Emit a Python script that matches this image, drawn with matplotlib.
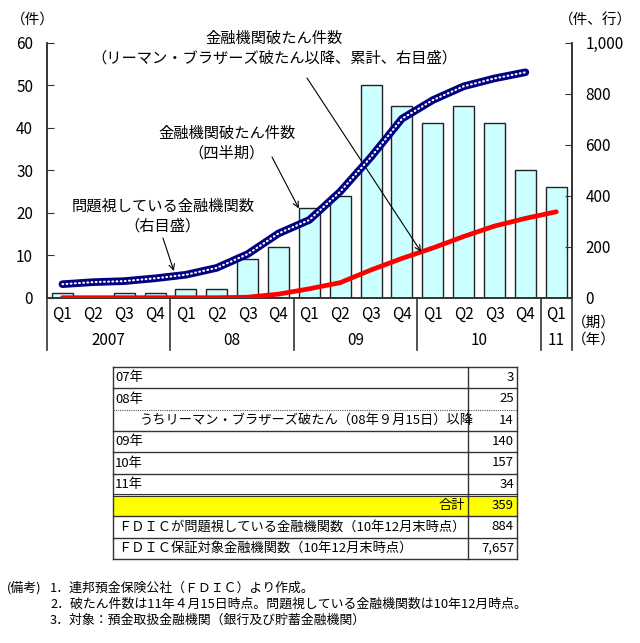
import matplotlib
matplotlib.use("Agg")
import matplotlib.pyplot as plt
from matplotlib.patches import Rectangle
import numpy as np

plt.rcParams['font.family'] = ['Noto Sans CJK JP', 'DejaVu Sans']

# --- data ---
quarters = ['Q1', 'Q2', 'Q3', 'Q4'] * 4 + ['Q1']
years = ['2007', '08', '09', '10', '11']
year_len = [4, 4, 4, 4, 1]
failures = [1, 0, 1, 1, 2, 2, 9, 12, 21, 24, 50, 45, 41, 45, 41, 30, 26]
cum_since_lehman = [0, 0, 0, 0, 0, 0, 2, 14, 35, 59, 109, 154, 195, 240, 281, 311, 337]
problem_banks = [53, 61, 65, 76, 90, 117, 171, 252, 305, 416, 552, 702, 775, 829, 860, 884]

table_labels = ['07年', '08年', 'うちリーマン・ブラザーズ破たん（08年９月15日）以降',
                '09年', '10年', '11年', '合計',
                'ＦＤＩＣが問題視している金融機関数（10年12月末時点）',
                'ＦＤＩＣ保証対象金融機関数（10年12月末時点）']
table_values = ['3', '25', '14', '140', '157', '34', '359', '884', '7,657']

notes = ['1．連邦預金保険公社（ＦＤＩＣ）より作成。',
         '2．破たん件数は11年４月15日時点。問題視している金融機関数は10年12月時点。',
         '3．対象：預金取扱金融機関（銀行及び貯蓄金融機関）']

W, H = 640, 643
fig = plt.figure(figsize=(W / 100, H / 100), dpi=100)
ax = fig.add_axes([47 / W, 1 - 297.7 / H, (571.7 - 47) / W, 255 / H])
ax2 = ax.twinx()

x = np.arange(len(failures))
ax.bar(x, failures, width=0.68, color='#CCFFFF', edgecolor='#222222', linewidth=1.0, zorder=2)
ax.set_xlim(-0.5, len(failures) - 0.5)
ax.set_ylim(0, 60)
ax.set_yticks(range(0, 61, 10))
ax2.set_ylim(0, 1000)
ax2.set_yticks(range(0, 1001, 200))
ax2.set_yticklabels([f'{v:,}' for v in range(0, 1001, 200)])

# lines (right scale)
ax2.plot(x, cum_since_lehman, color='#FF0000', lw=3.4, solid_capstyle='round', zorder=3)
xp = np.arange(len(problem_banks))
ax2.plot(xp, problem_banks, color='#000080', lw=5.5, solid_capstyle='round', zorder=4)
ax2.plot(xp, problem_banks, color='white', lw=1.5, linestyle=(0, (0.4, 1.6)),
         dash_capstyle='round', zorder=5)

# axes styling
for a in (ax, ax2):
    for s in a.spines.values():
        s.set_color('#333333')
        s.set_linewidth(1.2)
    a.spines['top'].set_visible(False)
ax.tick_params(axis='y', direction='in', length=5, pad=10, labelsize=11, color='#333333')
ax2.tick_params(axis='y', direction='in', length=5, pad=10, labelsize=11, color='#333333')
ax.set_xticks(x)
ax.set_xticklabels(quarters)
ax.tick_params(axis='x', length=0, pad=6, labelsize=11)

# year labels and separators below axis
tr = ax.get_xaxis_transform()
start = 0
bounds = [-0.5]
for yl, n in zip(years, year_len):
    ax.text(start + (n - 1) / 2, -0.168, yl, transform=tr, ha='center', va='center', fontsize=11)
    start += n
    bounds.append(start - 0.5)
for b in bounds:
    ax.plot([b, b], [0, -0.205], transform=tr, color='#333333', lw=1.2, clip_on=False)

# annotations
ax.text(0.4326, 0.979, '金融機関破たん件数\n（リーマン・ブラザーズ破たん以降、累計、右目盛）',
        transform=ax.transAxes, ha='center', va='center', fontsize=11, linespacing=1.2)
ax2.annotate('', xy=(11.62, 180), xycoords='data', xytext=(0.4955, 0.8616),
             textcoords=ax.transAxes,
             arrowprops=dict(arrowstyle='->', lw=0.8, color='black', shrinkA=0, shrinkB=0))
ax2.text(0.343, 0.6067, '金融機関破たん件数\n（四半期）', transform=ax.transAxes,
         ha='center', va='center', fontsize=11, linespacing=1.2)
ax.annotate('', xy=(7.66, 21), xycoords='data', xytext=(0.4288, 0.5518),
            textcoords=ax.transAxes,
            arrowprops=dict(arrowstyle='->', lw=0.8, color='black', shrinkA=0, shrinkB=0))
ax2.text(0.221, 0.32, '問題視している金融機関数\n（右目盛）', transform=ax.transAxes,
         ha='center', va='center', fontsize=11, linespacing=1.2)
ax2.annotate('', xy=(3.61, 105), xycoords='data', xytext=(0.221, 0.234),
             textcoords=ax.transAxes,
             arrowprops=dict(arrowstyle='->', lw=0.8, color='black', shrinkA=0, shrinkB=0))

# overlay in pixel coordinates
ov = fig.add_axes([0, 0, 1, 1])
ov.set_xlim(0, W)
ov.set_ylim(H, 0)
ov.axis('off')
ov.patch.set_alpha(0)

ov.text(33, 20, '（件）', ha='center', va='center', fontsize=10.5)
ov.text(595, 20, '（件、行）', ha='center', va='center', fontsize=10.5)
ov.text(594, 323, '（期）', ha='center', va='center', fontsize=10.5)
ov.text(594, 340, '（年）', ha='center', va='center', fontsize=10.5)

# table
x0, x1, x2 = 113, 467.7, 517
edges = np.linspace(367, 559, len(table_labels) + 1)
total_row = table_labels.index('合計')
ov.add_patch(Rectangle((x0, edges[total_row]), x2 - x0, edges[total_row + 1] - edges[total_row],
                       facecolor='#FFFF00', edgecolor='none'))
for i, e in enumerate(edges):
    if i == 2:
        ov.plot([x0, x2], [e, e], color='#555555', lw=0.8, linestyle=(0, (1, 1)))
    elif i == total_row:
        ov.plot([x0, x2], [e - 1.3, e - 1.3], color='#333333', lw=0.8)
        ov.plot([x0, x2], [e + 1.3, e + 1.3], color='#333333', lw=0.8)
    else:
        ov.plot([x0, x2], [e, e], color='#333333', lw=1.0)
for xv in (x0, x1, x2):
    ov.plot([xv, xv], [edges[0], edges[-1]], color='#333333', lw=1.0)

for i, (lab, val) in enumerate(zip(table_labels, table_values)):
    yc = (edges[i] + edges[i + 1]) / 2
    if lab == '合計':
        ov.text(x1 - 3, yc, lab, ha='right', va='center', fontsize=9.5)
    elif lab.startswith('うち'):
        ov.text(140, yc, lab, ha='left', va='center', fontsize=9.5)
    elif lab.startswith('ＦＤＩＣ'):
        ov.text(118, yc, lab, ha='left', va='center', fontsize=9.5)
    else:
        ov.text(x0 + 2, yc, lab, ha='left', va='center', fontsize=9.5)
    ov.text(x2 - 3, yc, val, ha='right', va='center', fontsize=9.5)

# notes
ov.text(7, 588, '(備考)', ha='left', va='center', fontsize=9.3)
for i, n in enumerate(notes):
    ov.text(50, 588 + i * 16, n, ha='left', va='center', fontsize=9.3)

fig.savefig('out.png', dpi=100)
plt.close(fig)
